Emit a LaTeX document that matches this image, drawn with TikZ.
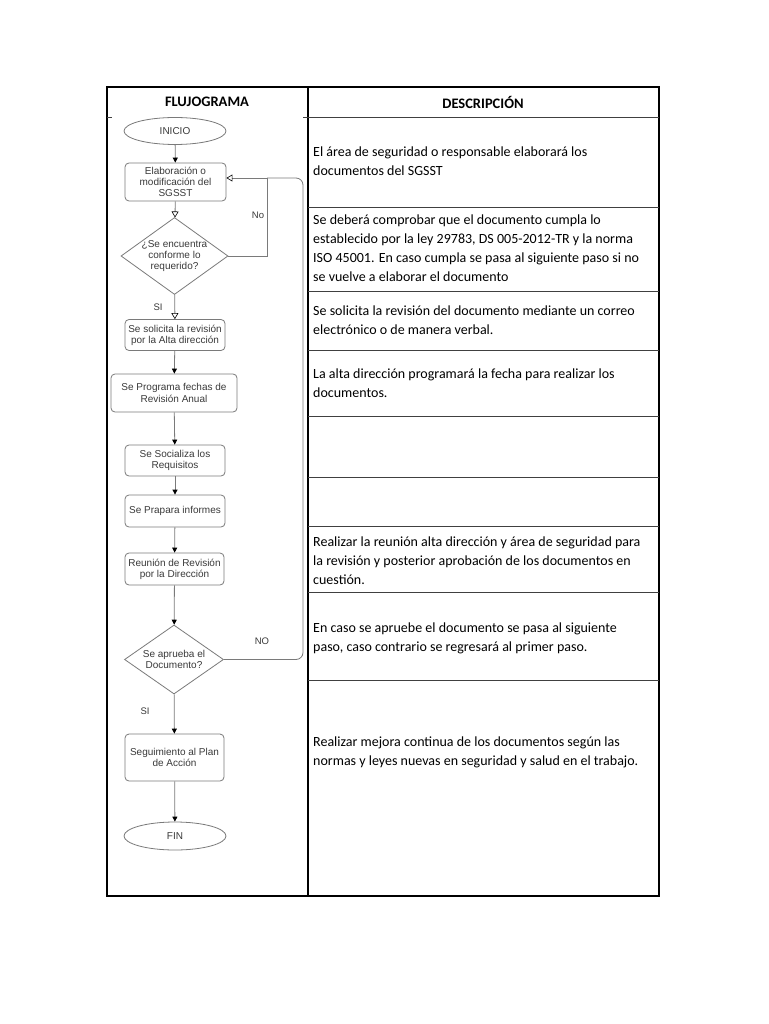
\documentclass[tikz,border=0pt]{standalone}
\usepackage{fontspec}
\setmainfont{Carlito}
\newfontfamily\flowfont{Liberation Sans}
\usetikzlibrary{shapes.geometric,arrows.meta}
\definecolor{flowline}{HTML}{7A7A7A}
\definecolor{flowtext}{HTML}{3A3A3A}
\tikzset{
  grid/.style={draw=black, line width=1.1pt},
  rowline/.style={draw=black!75, line width=1pt},
  desc/.style={anchor=north west, align=left, font=\fontsize{14}{18.7}\selectfont, inner sep=0pt, text=black},
  head/.style={font=\bfseries\fontsize{14.5}{16}\selectfont},
  procbox/.style={draw=flowline, line width=0.8pt, rounded corners=4pt, align=center, inner sep=0pt, font=\flowfont\fontsize{10}{11.2}\selectfont, text=flowtext},
  term/.style={draw=flowline, line width=0.8pt, ellipse, align=center, inner sep=0pt, font=\flowfont\fontsize{10}{11.2}\selectfont, text=flowtext},
  decis/.style={draw=flowline, line width=0.8pt, diamond, inner sep=0pt},
  dtext/.style={align=center, inner sep=0pt, font=\flowfont\fontsize{10}{11.2}\selectfont, text=flowtext},
  flab/.style={inner sep=0pt, font=\flowfont\fontsize{9.5}{10}\selectfont, text=flowtext},
  conn/.style={draw=flowline, line width=0.8pt, -{Triangle[width=5pt,length=5pt,black]}},
  oconn/.style={draw=flowline, line width=0.8pt, -{Triangle[open,width=7pt,length=6pt,black,line width=0.6pt]}},
  plainconn/.style={draw=flowline, line width=0.8pt},
}
\begin{document}
\begin{tikzpicture}[x=1pt,y=-1pt]
\useasboundingbox (0,0) rectangle (768,1024);
\fill[white] (0,0) rectangle (768,1024);

% ---- table ----
\draw[grid] (107,87) rectangle (659,896);
\draw[grid] (308,87) -- (308,896);
\draw[rowline] (308,118) -- (659,118);
\draw[rowline] (107,118) -- (112,118);
\draw[rowline] (303,118) -- (308,118);
\foreach \yy in {208,291,350,416,477,526,592,680}
  \draw[rowline] (308,\yy) -- (659,\yy);

\node[head] (h1) at (207,102) {FLUJOGRAMA};
\node[head] (h2) at (483,102) {DESCRIPCIÓN};

% ---- descriptions ----
\node[desc] (t1) at (313,147) {El área de seguridad o responsable elaborará los\\documentos del SGSST};
\node[desc] (t2) at (313,215) {Se deberá comprobar que el documento cumpla lo\\establecido por la ley 29783, DS 005-2012-TR y la norma\\ISO 45001. En caso cumpla se pasa al siguiente paso si no\\se vuelve a elaborar el documento};
\node[desc] (t3) at (313,306) {Se solicita la revisión del documento mediante un correo\\electrónico o de manera verbal.};
\node[desc] (t4) at (313,369) {La alta dirección programará la fecha para realizar los\\documentos.};
\node[desc] (t7) at (313,537) {Realizar la reunión alta dirección y área de seguridad para\\la revisión y posterior aprobación de los documentos en\\cuestión.};
\node[desc] (t8) at (313,623) {En caso se apruebe el documento se pasa al siguiente\\paso, caso contrario se regresará al primer paso.};
\node[desc] (t9) at (313,737) {Realizar mejora continua de los documentos según las\\normas y leyes nuevas en seguridad y salud en el trabajo.};

% ---- flowchart ----
\node[term, minimum width=102pt, minimum height=27pt] (inicio) at (175,131) {INICIO};
\node[procbox, minimum width=101pt, minimum height=38pt] (b1) at (175.5,182) {Elaboración o\\modificación del\\SGSST};
\node[decis, minimum width=107pt, minimum height=77pt] (d1) at (174.5,256) {};
\node[dtext] (d1t) at (174.5,256) {¿Se encuentra\\conforme lo\\requerido?};
\node[procbox, minimum width=100pt, minimum height=31pt] (b2) at (175,335) {Se solicita la revisión\\por la Alta dirección};
\node[procbox, minimum width=126pt, minimum height=38pt] (b3) at (174,393) {Se Programa fechas de\\Revisión Anual};
\node[procbox, minimum width=100pt, minimum height=31pt] (b4) at (175,460.5) {Se Socializa los\\Requisitos};
\node[procbox, minimum width=100pt, minimum height=32pt] (b5) at (175,511) {Se Prapara informes};
\node[procbox, minimum width=99pt, minimum height=32pt] (b6) at (174.5,569) {Reunión de Revisión\\por la Dirección};
\node[decis, minimum width=99pt, minimum height=69pt] (d2) at (174,659.5) {};
\node[dtext] (d2t) at (174,659.5) {Se aprueba el\\Documento?};
\node[procbox, minimum width=99pt, minimum height=47pt] (b7) at (174.5,757.5) {Seguimiento al Plan\\de Acción};
\node[term, minimum width=102pt, minimum height=28pt] (fin) at (175,836) {FIN};

\coordinate (j) at (267,178);

\draw[conn] (inicio) -- (b1);
\draw[oconn] (b1) -- (d1);
\draw[oconn] (d1.east) -| (j) -- ([yshift=4pt]b1.east);
\draw[oconn] (d1) -- (b2);
\draw[conn] (b2) -- (b3);
\draw[conn] (b3) -- (b4);
\draw[conn] (b4) -- (b5);
\draw[conn] (b5) -- (b6);
\draw[conn] (b6) -- (d2);
\draw[plainconn, rounded corners=7pt] (d2.east) -- (303,659.5) -- (303,178) -- (j);
\draw[conn] (d2) -- (b7);
\draw[conn] (b7) -- (fin);

\node[flab] (lno1) at (258,215) {No};
\node[flab] (lsi1) at (158,307) {SI};
\node[flab] (lno2) at (262,641) {NO};
\node[flab] (lsi2) at (145,711) {SI};
\end{tikzpicture}
\end{document}
